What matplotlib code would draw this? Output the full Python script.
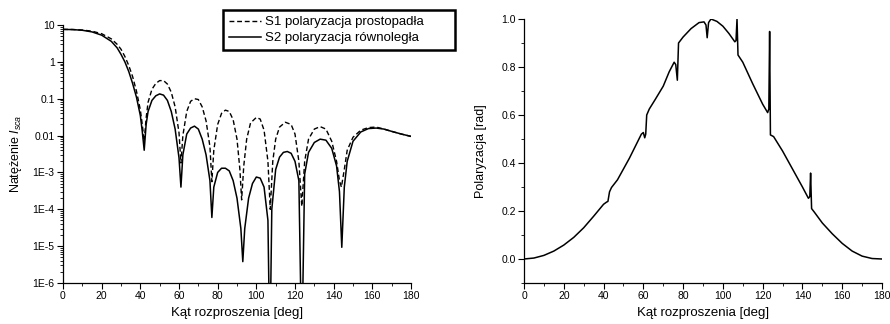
import matplotlib
matplotlib.use('Agg')
import numpy as np
from matplotlib import pyplot as plt
from matplotlib.ticker import LogLocator, FixedLocator, MultipleLocator, FixedFormatter, NullFormatter

plt.rcParams['font.family'] = ['Liberation Sans', 'DejaVu Sans']
plt.rcParams['mathtext.fontset'] = 'custom'
plt.rcParams['mathtext.rm'] = 'Liberation Sans'
plt.rcParams['mathtext.it'] = 'Liberation Sans:italic'

# left panel: intensity vs scattering angle
kat_s2 = [0, 5, 10, 15, 20, 25, 28, 30, 32, 34, 36, 38, 40, 41, 42, 43, 44, 46, 48, 50,
          52, 54, 56, 58, 60, 61, 62, 64, 66, 68, 70, 72, 74, 76, 77, 78, 80, 82, 84, 86,
          88, 90, 92, 93, 94, 96, 98, 100, 102, 104, 106, 107, 108, 110, 112, 114, 116, 118,
          120, 122, 123.5, 125, 127, 130, 133, 136, 139, 141.5, 143, 144.2, 145.5, 147, 150,
          154, 158, 162, 166, 170, 175, 180]
s2 = [7.6, 7.5, 7.2, 6.5, 5.3, 3.6, 2.4, 1.6, 1.0, 0.55, 0.26, 0.11, 0.035, 0.013, 0.004,
      0.02, 0.045, 0.09, 0.12, 0.135, 0.125, 0.09, 0.045, 0.015, 0.0025, 0.0004, 0.003,
      0.011, 0.016, 0.018, 0.015, 0.008, 0.003, 0.0006, 0.00006, 0.0004, 0.001, 0.0013,
      0.0013, 0.0011, 0.0006, 0.0002, 0.00003, 0.0000038, 0.00003, 0.0002, 0.0005, 0.00075,
      0.0007, 0.0004, 0.00005, 1e-8, 0.0001, 0.0012, 0.0026, 0.0035, 0.0037, 0.0033, 0.002,
      0.0006, 1e-8, 0.0009, 0.0035, 0.0065, 0.008, 0.0075, 0.0045, 0.0015, 0.0003,
      0.0000093, 0.0004, 0.002, 0.007, 0.0125, 0.0155, 0.016, 0.015, 0.013, 0.011, 0.0095]

kat_s1 = [0, 5, 10, 15, 20, 25, 28, 30, 32, 34, 36, 38, 40, 41, 42, 43, 44, 46, 48, 50,
          52, 54, 56, 58, 60, 61, 62, 64, 66, 68, 70, 72, 74, 76, 77, 78, 80, 82, 84, 86,
          88, 90, 91.5, 92.4, 93.5, 95, 97, 100, 102, 104, 106, 107.2, 108.5, 110, 112, 115,
          118, 120, 122, 123.5, 125, 127, 130, 133, 136, 139, 141.5, 143, 144, 145.5, 147,
          150, 154, 158, 162, 166, 170, 175, 180]
s1 = [7.6, 7.55, 7.3, 6.8, 5.8, 4.2, 3.0, 2.2, 1.4, 0.8, 0.4, 0.16, 0.05, 0.02, 0.007,
      0.03, 0.08, 0.18, 0.26, 0.31, 0.31, 0.25, 0.15, 0.06, 0.012, 0.0018, 0.01, 0.045,
      0.085, 0.1, 0.095, 0.06, 0.025, 0.005, 0.00056, 0.004, 0.02, 0.04, 0.049, 0.045,
      0.027, 0.008, 0.0012, 0.00018, 0.0015, 0.008, 0.022, 0.031, 0.028, 0.014, 0.002,
      0.0001, 0.002, 0.008, 0.017, 0.023, 0.02, 0.011, 0.002, 0.00012, 0.002, 0.008,
      0.015, 0.0175, 0.015, 0.007, 0.002, 0.0006, 0.0004, 0.0012, 0.004, 0.009, 0.014,
      0.0165, 0.017, 0.015, 0.013, 0.011, 0.0095]

# right panel: polarization
kat_p = [0, 5, 10, 15, 20, 25, 30, 35, 40, 41.5, 42.2, 43, 44, 47, 50, 53, 56, 59, 60,
         60.7, 61.2, 61.7, 63, 66, 70, 73, 75.5, 76.3, 77.1, 77.7, 80, 84, 88, 90.5, 91.5,
         92.1, 92.8, 94, 97, 100, 103, 106, 106.6, 107.1, 107.6, 110, 115, 120, 122.5,
         123.1, 123.5, 123.9, 125.5, 130, 135, 140, 143, 143.7, 144.1, 144.6, 146, 150,
         155, 160, 165, 170, 175, 180]
pol = [0, 0.004, 0.015, 0.033, 0.058, 0.09, 0.13, 0.178, 0.228, 0.237, 0.24, 0.28, 0.298,
       0.33, 0.375, 0.42, 0.47, 0.52, 0.527, 0.505, 0.52, 0.6, 0.625, 0.665, 0.72, 0.78,
       0.82, 0.81, 0.745, 0.9, 0.925, 0.96, 0.985, 0.988, 0.975, 0.922, 0.985, 1.0, 0.99,
       0.97, 0.94, 0.905, 0.91, 1.0, 0.85, 0.82, 0.73, 0.645, 0.61, 0.625, 0.948, 0.517,
       0.51, 0.45, 0.375, 0.3, 0.253, 0.26, 0.358, 0.21, 0.195, 0.15, 0.105, 0.065, 0.033,
       0.012, 0.002, 0.0]

fig = plt.figure(figsize=(8.9, 3.24), dpi=100)
ax1 = fig.add_axes([63/890, 41/324, 348/890, 258/324])
ax2 = fig.add_axes([524/890, 41/324, 358/890, 264/324])

fs_tick = 7.5
fs_lab = 9.5

l1, = ax1.plot(kat_s1, s1, color='black', lw=1.0, ls=(0, (3.5, 2)))
l2, = ax1.plot(kat_s2, s2, color='black', lw=1.1)
ax1.set_yscale('log')
ax1.set_xlim(0, 180)
ax1.set_ylim(1e-6, 10)
ax1.yaxis.set_minor_locator(LogLocator(base=10, subs=np.arange(2, 10), numticks=20))
ax1.yaxis.set_minor_formatter(NullFormatter())
ytick_vals = [1e-6, 1e-5, 1e-4, 1e-3, 0.01, 0.1, 1, 10]
ytick_txt = ['1E-6', '1E-5', '1E-4', '1E-3', '0.01', '0.1', '1', '10']
ax1.yaxis.set_major_locator(FixedLocator(ytick_vals))
ax1.yaxis.set_major_formatter(FixedFormatter(ytick_txt))
ax1.set_xlabel('Kąt rozproszenia [deg]', fontsize=fs_lab, labelpad=4)
ax1.set_ylabel(r'Natężenie $I_{sca}$', fontsize=9, labelpad=6)

ax2.plot(kat_p, pol, color='black', lw=1.1)
ax2.set_xlim(0, 180)
ax2.set_ylim(-0.1, 1.0)
ax2.yaxis.set_major_locator(FixedLocator([0.0, 0.2, 0.4, 0.6, 0.8, 1.0]))
ax2.yaxis.set_minor_locator(MultipleLocator(0.1))
ax2.yaxis.set_major_formatter(FixedFormatter(['0.0', '0.2', '0.4', '0.6', '0.8', '1.0']))
ax2.set_xlabel('Kąt rozproszenia [deg]', fontsize=fs_lab, labelpad=4)
ax2.set_ylabel('Polaryzacja [rad]', fontsize=9, labelpad=10)

for ax in (ax1, ax2):
    ax.spines['top'].set_visible(False)
    ax.spines['right'].set_visible(False)
    ax.spines['left'].set_linewidth(0.9)
    ax.spines['bottom'].set_linewidth(0.9)
    ax.xaxis.set_major_locator(MultipleLocator(20))
    ax.xaxis.set_minor_locator(MultipleLocator(10))
    ax.tick_params(which='major', direction='out', length=4, width=0.8, labelsize=fs_tick,
                   pad=2, colors='black')
    ax.tick_params(which='minor', direction='out', length=2, width=0.6)

leg = fig.legend([l1, l2], ['S1 polaryzacja prostopadła', 'S2 polaryzacja równoległa'],
                 loc='upper left', bbox_to_anchor=(223/890, 1 - 50/324, 232/890, 40/324),
                 mode='expand', borderaxespad=0, fontsize=9.5, handlelength=2.4,
                 handletextpad=0.3, borderpad=0.45, labelspacing=0.3, fancybox=False,
                 edgecolor='black', framealpha=1)
leg.get_frame().set_linewidth(1.8)

fig.savefig('out.png', dpi=100)
